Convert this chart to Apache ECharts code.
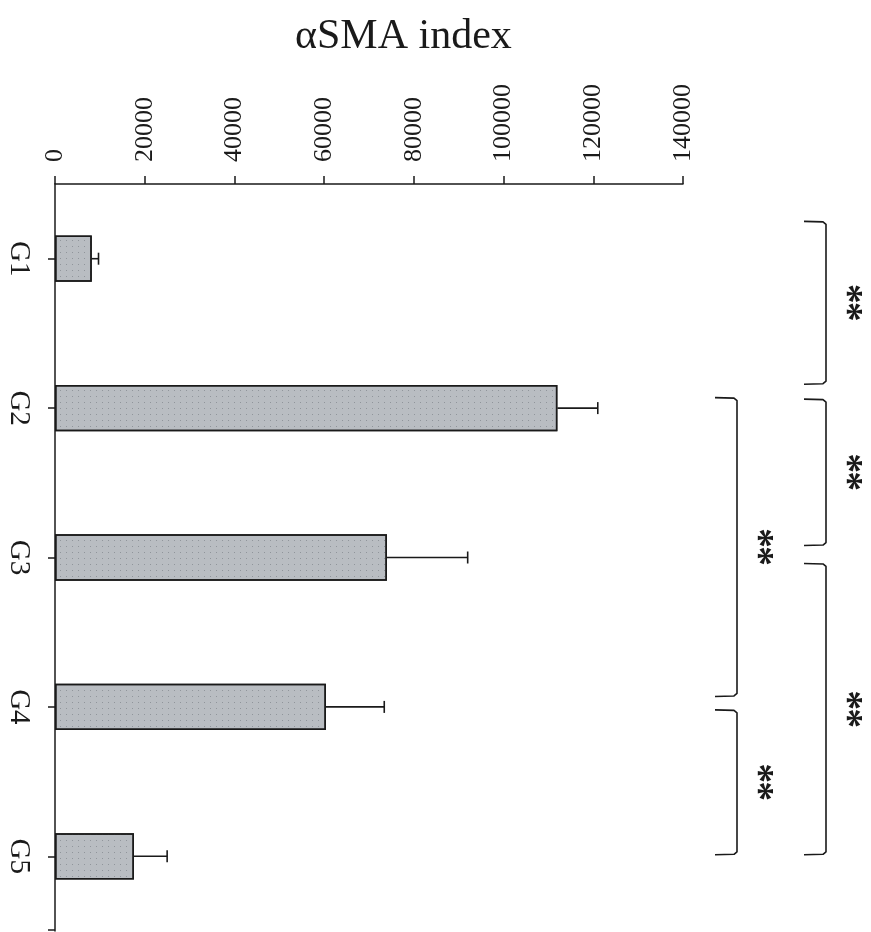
<!DOCTYPE html>
<html>
<head>
<meta charset="utf-8">
<script src="https://cdn.jsdelivr.net/npm/echarts@6/dist/echarts.min.js"></script>
<style>
  html, body { margin: 0; padding: 0; background: #ffffff; }
  #chart { width: 871px; height: 932px; }
</style>
</head>
<body>
<div id="chart"></div>
<script>
// Groups and their αSMA index (mean and positive error)
const groups = ['G1', 'G2', 'G3', 'G4', 'G5'];
const means = [8200, 112000, 74000, 60400, 17600];
const errors = [1500, 9000, 18000, 13000, 7400];

// Value axis range
const axisMin = 0;
const axisMax = 140000;
const axisStep = 20000;

// Significance brackets: spans in category units (0 = G1 centre), level 1 = inner column, 2 = outer
const comparisons = [
  { from: -0.25, to: 0.84, level: 2, mark: '**' },
  { from: 0.94, to: 1.92, level: 2, mark: '**' },
  { from: 2.04, to: 3.99, level: 2, mark: '**' },
  { from: 0.93, to: 2.93, level: 1, mark: '**' },
  { from: 3.02, to: 3.99, level: 1, mark: '**' }
];

const serif = "'Liberation Serif', 'Times New Roman', serif";
const ink = '#1a1a1a';

const chart = echarts.init(document.getElementById('chart'), null, { renderer: 'canvas' });

chart.setOption({
  animation: false,
  backgroundColor: '#ffffff',
  title: {
    text: 'αSMA index',
    left: 290,
    top: 11,
    textStyle: { fontFamily: serif, fontSize: 42, fontWeight: 'normal', color: ink }
  },
  grid: { left: 55, top: 184, width: 628, height: 747 },
  xAxis: {
    type: 'value',
    position: 'top',
    min: axisMin,
    max: axisMax,
    interval: axisStep,
    axisLine: { show: true, lineStyle: { color: ink, width: 1.5 } },
    axisTick: { show: true, length: 8, lineStyle: { color: ink, width: 1.5 } },
    splitLine: { show: false },
    axisLabel: {
      rotate: -90,
      margin: 22,
      fontFamily: serif,
      fontSize: 26,
      color: ink,
      formatter: function (v) { return String(v); }
    }
  },
  yAxis: {
    type: 'category',
    inverse: true,
    data: groups,
    axisLine: { show: true, lineStyle: { color: ink, width: 1.5 } },
    axisTick: { show: true, alignWithLabel: true, length: 7, lineStyle: { color: ink, width: 1.5 } },
    axisLabel: {
      rotate: -90,
      margin: 22,
      fontFamily: serif,
      fontSize: 29,
      color: ink
    }
  },
  series: [
    {
      type: 'bar',
      data: means,
      barWidth: '31%',
      itemStyle: {
        color: '#b9bdc2',
        borderColor: ink,
        borderWidth: 1.5,
        decal: {
          symbol: 'rect',
          symbolSize: 1,
          color: 'rgba(95, 100, 108, 0.45)',
          dashArrayX: [[1, 5]],
          dashArrayY: [1, 5],
          rotation: 0
        }
      }
    },
    {
      type: 'custom',
      data: groups.map((g, i) => [means[i], i, errors[i]]),
      encode: { x: 0, y: 1 },
      z: 3,
      renderItem: function (params, api) {
        const idx = api.value(1);
        const start = api.coord([api.value(0), idx]);
        const end = api.coord([api.value(0) + api.value(2), idx]);
        const half = 6;
        const style = { stroke: ink, lineWidth: 1.6 };
        return {
          type: 'group',
          children: [
            { type: 'line', shape: { x1: start[0], y1: start[1], x2: end[0], y2: end[1] }, style: style },
            { type: 'line', shape: { x1: end[0], y1: end[1] - half, x2: end[0], y2: end[1] + half }, style: style }
          ]
        };
      }
    }
  ]
});

// Significance brackets and their star marks drawn beside the bars
function drawBrackets() {
  const c0 = chart.convertToPixel({ yAxisIndex: 0 }, 0);
  const c1 = chart.convertToPixel({ yAxisIndex: 0 }, 1);
  const band = c1 - c0;
  const right = chart.convertToPixel({ xAxisIndex: 0 }, axisMax);
  const columnX = { 1: right + 54, 2: right + 143 };
  const arm = 22;
  const r = 3;
  const starGap = 18;
  const elements = [];
  // bottom end mark of the category axis
  const axisX = chart.convertToPixel({ xAxisIndex: 0 }, axisMin);
  const axisEnd = c0 + (groups.length - 0.5) * band;
  elements.push({
    type: 'line',
    shape: { x1: axisX - 7, y1: axisEnd - 1, x2: axisX, y2: axisEnd - 1 },
    style: { stroke: ink, lineWidth: 1.5 }
  });
  comparisons.forEach(function (cmp) {
    const x = columnX[cmp.level];
    const y1 = c0 + cmp.from * band;
    const y2 = c0 + cmp.to * band;
    elements.push({
      type: 'polyline',
      shape: {
        points: [
          [x - arm, y1], [x - r, y1 + 0.5], [x, y1 + r],
          [x, y2 - r], [x - r, y2 - 0.5], [x - arm, y2]
        ]
      },
      style: { stroke: ink, lineWidth: 1.6, fill: null, lineJoin: 'round' }
    });
    const mid = (y1 + y2) / 2;
    const chars = cmp.mark.split('');
    chars.forEach(function (ch, k) {
      elements.push({
        type: 'text',
        x: x + 20,
        y: mid + (k - (chars.length - 1) / 2) * starGap,
        rotation: -Math.PI / 2,
        style: {
          text: ch,
          font: 'bold 40px ' + serif,
          fill: ink,
          align: 'center',
          verticalAlign: 'middle'
        }
      });
    });
  });
  chart.setOption({ graphic: { elements: elements } });
}
drawBrackets();
</script>
</body>
</html>
